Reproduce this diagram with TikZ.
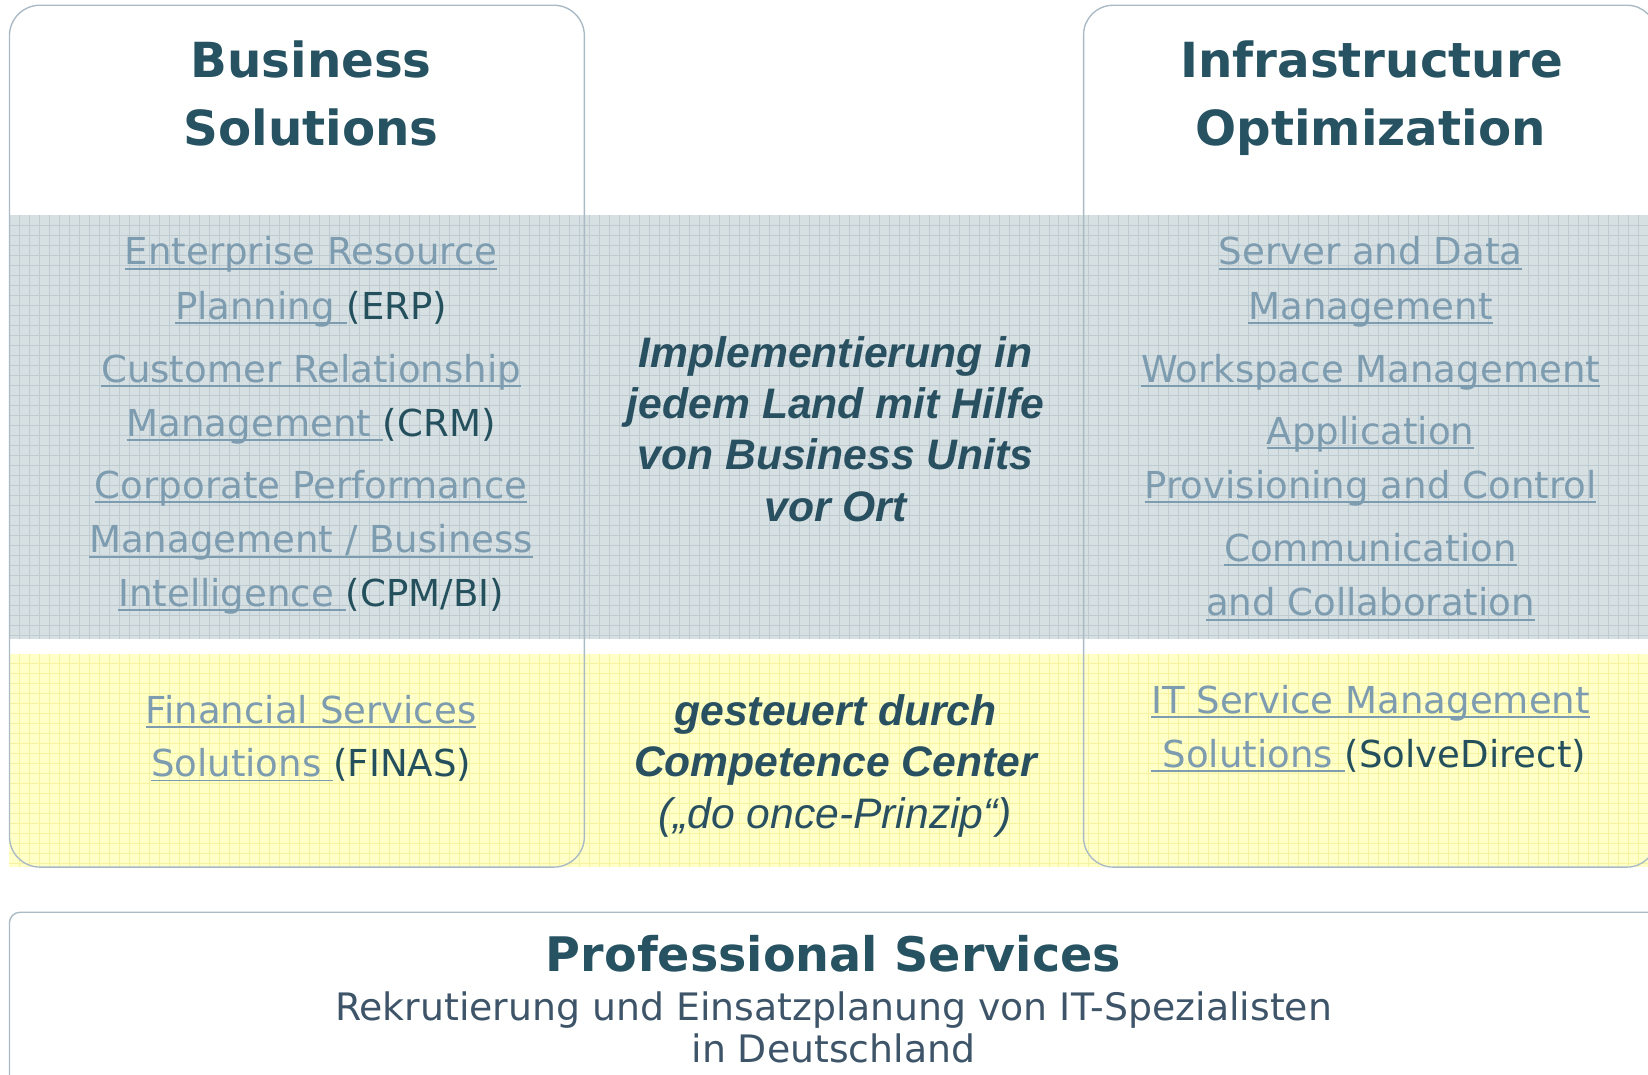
\documentclass[tikz,border=0pt]{standalone}
\usepackage{fontspec}
\setmainfont{DejaVu Sans}
\newfontfamily\arialf{Liberation Sans}
\definecolor{titlec}{RGB}{38,82,97}
\definecolor{linkc}{RGB}{126,156,176}
\definecolor{darkc}{RGB}{36,80,94}
\definecolor{ctrc}{RGB}{40,80,96}
\definecolor{subc}{RGB}{62,85,105}
\definecolor{greyband}{RGB}{214,223,225}
\definecolor{gridg}{RGB}{190,204,209}
\definecolor{yelband}{RGB}{255,255,200}
\definecolor{gridy}{RGB}{245,242,160}
\definecolor{boxc}{RGB}{169,186,197}
\newcommand\lk[1]{{\color{linkc}\setbox0=\hbox{#1}\rlap{\rule[-4.5pt]{\wd0}{1.8pt}}\box0}}
\tikzset{
  titletxt/.style={font=\fontsize{46}{50}\selectfont\bfseries, text=titlec, anchor=base, inner sep=0pt},
  pstxt/.style={font=\fontsize{45.3}{50}\selectfont\bfseries, text=titlec, anchor=base, inner sep=0pt},
  linktxt/.style={font=\fontsize{35.3}{40}\selectfont, text=darkc, anchor=base, inner sep=0pt},
  ctrtxt/.style={font=\arialf\fontsize{40.6}{48}\selectfont\bfseries\itshape, text=ctrc, anchor=base, inner sep=0pt},
  ctrit/.style={font=\arialf\fontsize{40.6}{48}\selectfont\itshape, text=ctrc, anchor=base, inner sep=0pt},
  subtxt/.style={font=\fontsize{36}{40}\selectfont, text=subc, anchor=base, inner sep=0pt},
  boxline/.style={draw=boxc, line width=1.3pt},
  gridline/.style={line width=0.9pt},
}
\begin{document}
\begin{tikzpicture}[x=1pt,y=-1pt]
\useasboundingbox (0,0) rectangle (1568,1022);
\clip (0,0) rectangle (1568,1022);
\fill[white] (0,0) rectangle (1568,1022);
% bands
\fill[greyband] (9,205) rectangle (1568,608);
\foreach \i in {1,...,164} {\draw[gridline, gridg] ({9+9.51*\i},205) -- ({9+9.51*\i},608);}
\foreach \j in {1,...,42} {\draw[gridline, gridg] (9,{205+9.51*\j}) -- (1568,{205+9.51*\j});}
\fill[yelband] (9,622) rectangle (1568,825);
\foreach \i in {1,...,164} {\draw[gridline, gridy] ({9+9.51*\i},622) -- ({9+9.51*\i},825);}
\foreach \j in {1,...,21} {\draw[gridline, gridy] (9,{622+9.51*\j}) -- (1568,{622+9.51*\j});}
% boxes
\draw[boxline, rounded corners=29pt] (9,5) rectangle (556,825);
\draw[boxline, rounded corners=28pt] (1031,5) rectangle (1576,825);
\draw[boxline, rounded corners=10pt] (9,868) rectangle (1610,1070);
% titles
\node[titletxt] (bs1) at (296,73.5) {Business};
\node[titletxt] (bs2) at (296,138.5) {Solutions};
\node[titletxt] (io1) at (1305,73.5) {Infrastructure};
\node[titletxt] (io2) at (1304,138.5) {Optimization};
% left column
\node[linktxt] (erp1) at (296,252) {\lk{Enterprise Resource}};
\node[linktxt] (erp2) at (296,304) {\lk{Planning\ }(ERP)};
\node[linktxt] (crm1) at (296,364) {\lk{Customer Relationship}};
\node[linktxt] (crm2) at (296,415) {\lk{Management\ }(CRM)};
\node[linktxt] (cpm1) at (296,474) {\lk{Corporate Performance}};
\node[linktxt] (cpm2) at (296,526) {\lk{Management / Business}};
\node[linktxt] (cpm3) at (296,577) {\lk{Intelligence\ }(CPM/BI)};
\node[linktxt] (fin1) at (296,688) {\lk{Financial Services}};
\node[linktxt] (fin2) at (296,739) {\lk{Solutions\ }(FINAS)};
% right column
\node[linktxt] (srv1) at (1304,252) {\lk{Server and Data}};
\node[linktxt] (srv2) at (1304,304) {\lk{Management}};
\node[linktxt] (wsm) at (1304,364) {\lk{Workspace Management}};
\node[linktxt] (apc1) at (1304,423) {\lk{Application}};
\node[linktxt] (apc2) at (1304,474) {\lk{Provisioning and Control}};
\node[linktxt] (cac1) at (1304,534) {\lk{Communication}};
\node[linktxt] (cac2) at (1304,586) {\lk{and Collaboration}};
\node[linktxt] (itsm1) at (1304,679) {\lk{IT Service Management}};
\node[linktxt] (itsm2) at (1302,730) {\lk{\ Solutions\ }(SolveDirect)};
% center column
\node[ctrtxt] (imp1) at (795,350) {Implementierung in};
\node[ctrtxt] (imp2) at (795,398) {jedem Land mit Hilfe};
\node[ctrtxt] (imp3) at (795,447) {von Business Units};
\node[ctrtxt] (imp4) at (795,496) {vor Ort};
\node[ctrtxt] (cc1) at (795,690) {gesteuert durch};
\node[ctrtxt] (cc2) at (795,739) {Competence Center};
\node[ctrit] (cc3) at (795,788) {(„do once-Prinzip“)};
% bottom
\node[pstxt] (ps) at (793,924.5) {Professional Services};
\node[subtxt] (sub1) at (793,971) {Rekrutierung und Einsatzplanung von IT-Spezialisten};
\node[subtxt] (sub2) at (793,1011) {in Deutschland};
\end{tikzpicture}
\end{document}
